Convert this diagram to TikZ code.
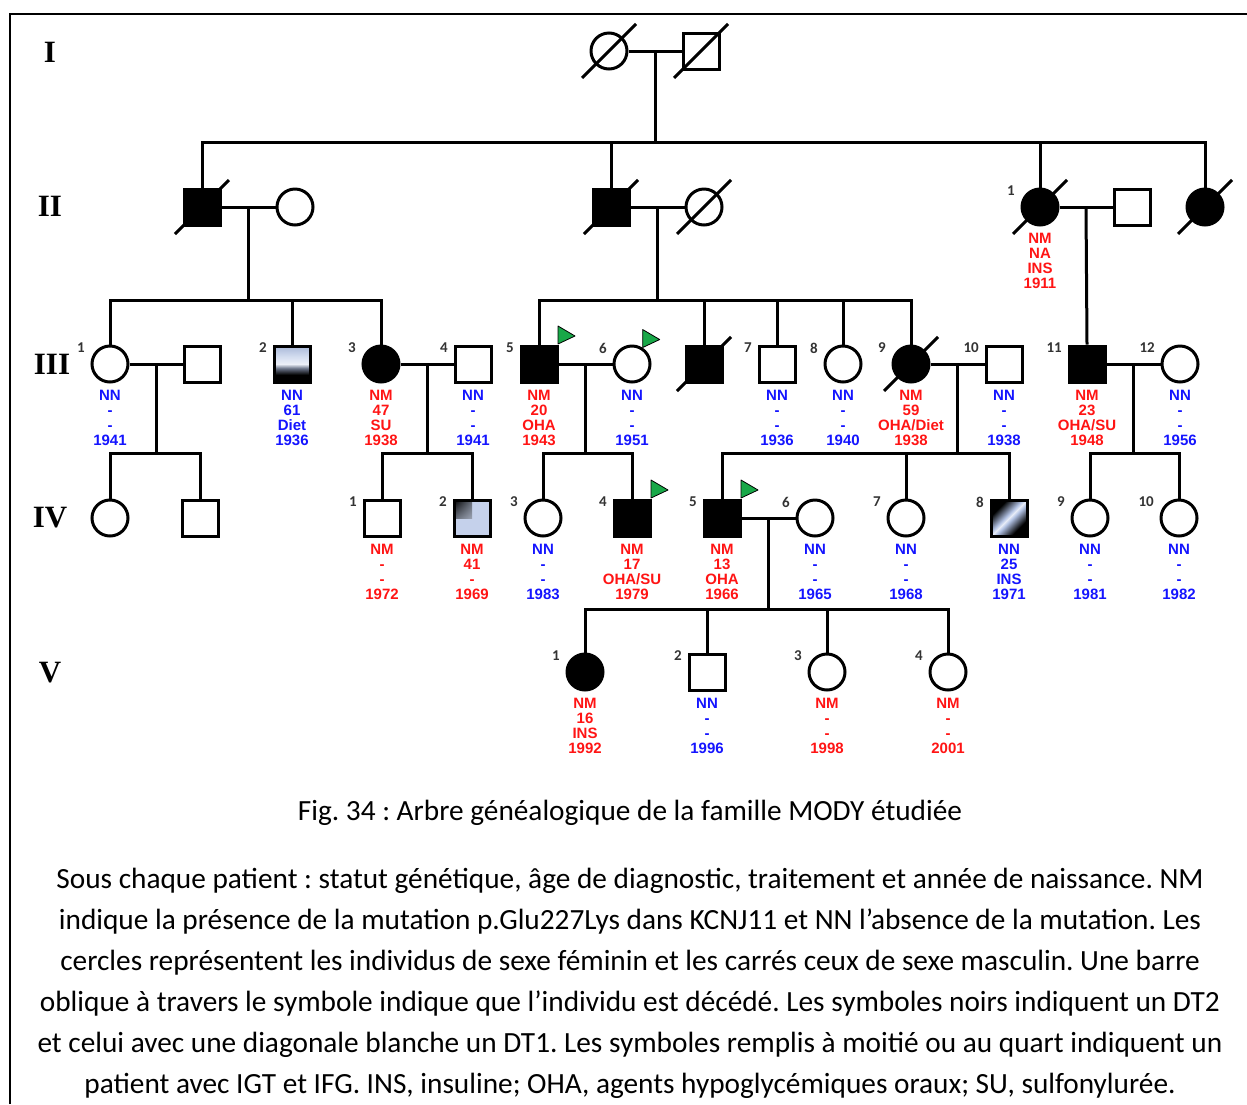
\documentclass[tikz,border=0pt]{standalone}
\usepackage{fontspec}
\setmainfont{Carlito}
\newfontfamily\labfont{Liberation Sans}
\newfontfamily\romfont{Liberation Serif}
\usetikzlibrary{calc,shadings}
\frenchspacing

\definecolor{pedred}{RGB}{255,20,20}
\definecolor{pedblue}{RGB}{20,20,255}
\definecolor{pedlight}{RGB}{178,194,228}
\definecolor{flaggreen}{RGB}{24,168,72}

\pgfdeclareverticalshading{halffill}{100bp}{color(0bp)=(black); color(35bp)=(black); color(44bp)=(pedlight!60!black); color(50bp)=(pedlight!25!white); color(60bp)=(pedlight!55!white); color(75bp)=(pedlight!95!black); color(100bp)=(pedlight)}
\pgfdeclarehorizontalshading{diagfill}{100bp}{color(0bp)=(black); color(30bp)=(black); color(46bp)=(pedlight); color(50bp)=(pedlight!30!white); color(54bp)=(pedlight); color(70bp)=(black); color(100bp)=(black)}

\tikzset{
  link/.style={line width=3pt},
  male/.style={rectangle, draw, line width=3pt, minimum size=36pt, inner sep=0pt},
  female/.style={circle, draw, line width=3pt, minimum size=36pt, inner sep=0pt},
  aff/.style={fill=black},
  info/.style={anchor=north, align=center, inner sep=0pt, font=\labfont\bfseries\fontsize{15}{15.3}\selectfont},
  nm/.style={info, text=pedred},
  nn/.style={info, text=pedblue},
  idx/.style={anchor=east, inner sep=0pt, text=black!80, font=\bfseries\fontsize{15}{15}\selectfont},
  gen/.style={inner sep=0pt, font=\romfont\bfseries\fontsize{31}{31}\selectfont},
  capt/.style={anchor=base, inner sep=0pt, font=\fontsize{29.3}{33}\selectfont},
  flag/.style={fill=flaggreen, draw=black, line width=0.8pt, line join=round}
}

% deceased slash, index number, info block, proband flag
\newcommand{\deceased}[1]{\draw[link] ([shift={(-27,27)}]#1.center) -- ([shift={(27,-27)}]#1.center);}
\newcommand{\pidx}[2]{\node[idx] (#1-n) at ([shift={(-25,-16)}]#1.center) {#2};}
\newcommand{\pinfo}[3]{\node[#2] (#1-t) at ([yshift=-25.5pt]#1.center) {#3};}
\newcommand{\pflag}[2]{\filldraw[flag] ([shift={(-0.5,-0.5)}]#1.#2) -- ++(0,-18) -- ++(17,10) -- cycle;}

\begin{document}
\begin{tikzpicture}[x=1pt, y=-1pt]
    \useasboundingbox (0,0) rectangle (1247,1104);
    \draw[line width=2.2pt] (10,1104) -- (10,14) -- (1247,14);

    % generations
    \node[gen] (gI) at (50,52) {I};
    \node[gen] (gII) at (50,206) {II};
    \node[gen] (gIII) at (52,364) {III};
    \node[gen] (gIV) at (50,518) {IV};
    \node[gen] (gV) at (50,673) {V};

    \coordinate (rowII) at (0,142);
    \coordinate (rowIII) at (0,300);
    \coordinate (rowIV) at (0,453);
    \coordinate (rowV) at (0,609);

    % generation I
    \node[female] (Ia) at (609,51) {};
    \node[male] (Ib) at (701,51) {};
    \draw[link] (Ia) -- (Ib);
    \coordinate (Im) at ($(Ia)!0.5!(Ib)$);

    % generation II
    \node[male, aff] (IIa) at (202,207) {};
    \node[female] (IIb) at (295,207) {};
    \node[male, aff] (IIc) at (611,207) {};
    \node[female] (IId) at (704,207) {};
    \node[female, aff] (II1) at (1040,207) {};
    \node[male] (IIe) at (1132,207) {};
    \node[female, aff] (IIf) at (1205,207) {};
    \draw[link] (Im) -- (Im |- rowII);
    \draw[link] (IIa.north) -- (IIa |- rowII) -- (IIf |- rowII) -- (IIf.north);
    \draw[link] (IIc.north) -- (IIc |- rowII);
    \draw[link] (II1.north) -- (II1 |- rowII);
    \draw[link] (IIa) -- (IIb);
    \draw[link] (IIc) -- (IId);
    \draw[link] (II1) -- (IIe);
    \coordinate (IIm1) at ($(IIa)!0.5!(IIb)$);
    \coordinate (IIm2) at ($(IIc)!0.5!(IId)$);
    \coordinate (IIm3) at ($(II1)!0.5!(IIe)$);
    \pidx{II1}{1}
    \pinfo{II1}{nm}{NM\\NA\\INS\\1911}

    % generation III
    \node[female] (III1) at (110,364) {};
    \node[male] (IIIa) at (202,364) {};
    \node[male, draw, shade, shading=halffill] (III2) at (292,364) {};
    \node[female, aff] (III3) at (381,364) {};
    \node[male] (III4) at (473,364) {};
    \node[male, aff] (III5) at (539,364) {};
    \node[female] (III6) at (632,364) {};
    \node[male, aff] (IIIx) at (704,364) {};
    \node[male] (III7) at (777,364) {};
    \node[female] (III8) at (843,364) {};
    \node[female, aff] (III9) at (911,364) {};
    \node[male] (III10) at (1004,364) {};
    \node[male, aff] (III11) at (1087,364) {};
    \node[female] (III12) at (1180,364) {};
    \draw[link] (IIm1) -- (IIm1 |- rowIII);
    \draw[link] (III1.north) -- (III1 |- rowIII) -- (III3 |- rowIII) -- (III3.north);
    \draw[link] (III2.north) -- (III2 |- rowIII);
    \draw[link] (IIm2) -- (IIm2 |- rowIII);
    \draw[link] (III5.north) -- (III5 |- rowIII) -- (III9 |- rowIII) -- (III9.north);
    \draw[link] (IIIx.north) -- (IIIx |- rowIII);
    \draw[link] (III7.north) -- (III7 |- rowIII);
    \draw[link] (III8.north) -- (III8 |- rowIII);
    \draw[link] (IIm3) -- (III11.north);
    \draw[link] (III1) -- (IIIa);
    \draw[link] (III3) -- (III4);
    \draw[link] (III5) -- (III6);
    \draw[link] (III9) -- (III10);
    \draw[link] (III11) -- (III12);
    \coordinate (IIIm1) at ($(III1)!0.5!(IIIa)$);
    \coordinate (IIIm2) at ($(III3)!0.5!(III4)$);
    \coordinate (IIIm3) at ($(III5)!0.5!(III6)$);
    \coordinate (IIIm4) at ($(III9)!0.5!(III10)$);
    \coordinate (IIIm5) at ($(III11)!0.5!(III12)$);
    \pidx{III1}{1}  \pinfo{III1}{nn}{NN\\-\\-\\1941}
    \pidx{III2}{2}  \pinfo{III2}{nn}{NN\\61\\Diet\\1936}
    \pidx{III3}{3}  \pinfo{III3}{nm}{NM\\47\\SU\\1938}
    \pidx{III4}{4}  \pinfo{III4}{nn}{NN\\-\\-\\1941}
    \pidx{III5}{5}  \pinfo{III5}{nm}{NM\\20\\OHA\\1943}
    \pidx{III6}{6}  \pinfo{III6}{nn}{NN\\-\\-\\1951}
    \pidx{III7}{7}  \pinfo{III7}{nn}{NN\\-\\-\\1936}
    \pidx{III8}{8}  \pinfo{III8}{nn}{NN\\-\\-\\1940}
    \pidx{III9}{9}  \pinfo{III9}{nm}{NM\\59\\OHA/Diet\\1938}
    \pidx{III10}{10} \pinfo{III10}{nn}{NN\\-\\-\\1938}
    \pidx{III11}{11} \pinfo{III11}{nm}{NM\\23\\OHA/SU\\1948}
    \pidx{III12}{12} \pinfo{III12}{nn}{NN\\-\\-\\1956}

    % generation IV
    \node[female] (IVa) at (110,518) {};
    \node[male] (IVb) at (200,518) {};
    \node[male] (IV1) at (382,518) {};
    \node[male, fill=pedlight!75!white, path picture={\shade[upper left=black, upper right=pedlight!70!white, lower left=pedlight!70!white, lower right=pedlight!55!white] (path picture bounding box.north west) rectangle (path picture bounding box.center);}] (IV2) at (472,518) {};
    \node[female] (IV3) at (543,518) {};
    \node[male, aff] (IV4) at (632,518) {};
    \node[male, aff] (IV5) at (722,518) {};
    \node[female] (IV6) at (815,518) {};
    \node[female] (IV7) at (906,518) {};
    \node[male, draw, shade, shading=diagfill, shading angle=-45] (IV8) at (1009,518) {};
    \node[female] (IV9) at (1090,518) {};
    \node[female] (IV10) at (1179,518) {};
    \draw[link] (IIIm1) -- (IIIm1 |- rowIV);
    \draw[link] (IVa.north) -- (IVa |- rowIV) -- (IVb |- rowIV) -- (IVb.north);
    \draw[link] (IIIm2) -- (IIIm2 |- rowIV);
    \draw[link] (IV1.north) -- (IV1 |- rowIV) -- (IV2 |- rowIV) -- (IV2.north);
    \draw[link] (IIIm3) -- (IIIm3 |- rowIV);
    \draw[link] (IV3.north) -- (IV3 |- rowIV) -- (IV4 |- rowIV) -- (IV4.north);
    \draw[link] (IIIm4) -- (IIIm4 |- rowIV);
    \draw[link] (IV5.north) -- (IV5 |- rowIV) -- (IV8 |- rowIV) -- (IV8.north);
    \draw[link] (IV7.north) -- (IV7 |- rowIV);
    \draw[link] (IIIm5) -- (IIIm5 |- rowIV);
    \draw[link] (IV9.north) -- (IV9 |- rowIV) -- (IV10 |- rowIV) -- (IV10.north);
    \draw[link] (IV5) -- (IV6);
    \coordinate (IVm) at ($(IV5)!0.5!(IV6)$);
    \pidx{IV1}{1}  \pinfo{IV1}{nm}{NM\\-\\-\\1972}
    \pidx{IV2}{2}  \pinfo{IV2}{nm}{NM\\41\\-\\1969}
    \pidx{IV3}{3}  \pinfo{IV3}{nn}{NN\\-\\-\\1983}
    \pidx{IV4}{4}  \pinfo{IV4}{nm}{NM\\17\\OHA/SU\\1979}
    \pidx{IV5}{5}  \pinfo{IV5}{nm}{NM\\13\\OHA\\1966}
    \pidx{IV6}{6}  \pinfo{IV6}{nn}{NN\\-\\-\\1965}
    \pidx{IV7}{7}  \pinfo{IV7}{nn}{NN\\-\\-\\1968}
    \pidx{IV8}{8}  \pinfo{IV8}{nn}{NN\\25\\INS\\1971}
    \pidx{IV9}{9}  \pinfo{IV9}{nn}{NN\\-\\-\\1981}
    \pidx{IV10}{10} \pinfo{IV10}{nn}{NN\\-\\-\\1982}

    % generation V
    \node[female, aff] (V1) at (585,672) {};
    \node[male] (V2) at (707,672) {};
    \node[female] (V3) at (827,672) {};
    \node[female] (V4) at (948,672) {};
    \draw[link] (IVm) -- (IVm |- rowV);
    \draw[link] (V1.north) -- (V1 |- rowV) -- (V4 |- rowV) -- (V4.north);
    \draw[link] (V2.north) -- (V2 |- rowV);
    \draw[link] (V3.north) -- (V3 |- rowV);
    \pidx{V1}{1}  \pinfo{V1}{nm}{NM\\16\\INS\\1992}
    \pidx{V2}{2}  \pinfo{V2}{nn}{NN\\-\\-\\1996}
    \pidx{V3}{3}  \pinfo{V3}{nm}{NM\\-\\-\\1998}
    \pidx{V4}{4}  \pinfo{V4}{nm}{NM\\-\\-\\2001}

    % deceased
    \deceased{Ia} \deceased{Ib}
    \deceased{IIa} \deceased{IIc} \deceased{IId} \deceased{II1} \deceased{IIf}
    \deceased{IIIx} \deceased{III9}

    % probands
    \pflag{III5}{north east}
    \pflag{III6}{55}
    \pflag{IV4}{north east}
    \pflag{IV5}{north east}

    % caption
    \node[capt] (cap0) at (630,820) {Fig. 34 : Arbre généalogique de la famille MODY étudiée};
    \node[capt] (cap1) at (630,888) {Sous chaque patient : statut génétique, âge de diagnostic, traitement et année de naissance. NM};
    \node[capt] (cap2) at (630,929) {indique la présence de la mutation p.Glu227Lys dans KCNJ11 et NN l’absence de la mutation. Les};
    \node[capt] (cap3) at (630,970) {cercles représentent les individus de sexe féminin et les carrés ceux de sexe masculin. Une barre};
    \node[capt] (cap4) at (630,1011) {oblique à travers le symbole indique que l’individu est décédé. Les symboles noirs indiquent un DT2};
    \node[capt] (cap5) at (630,1052) {et celui avec une diagonale blanche un DT1. Les symboles remplis à moitié ou au quart indiquent un};
    \node[capt] (cap6) at (630,1093) {patient avec IGT et IFG. INS, insuline; OHA, agents hypoglycémiques oraux; SU, sulfonylurée.};
\end{tikzpicture}
\end{document}
